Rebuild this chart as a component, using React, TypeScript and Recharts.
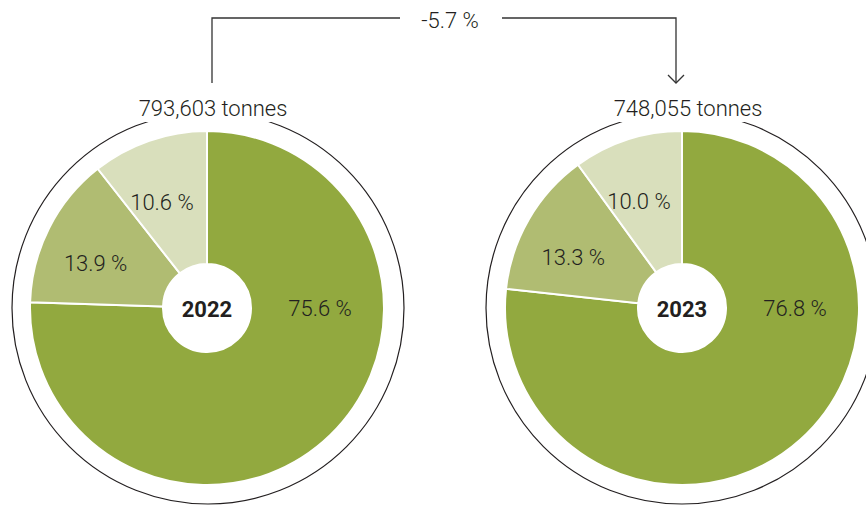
import { PieChart, Pie, Cell } from 'recharts'

const years = ['2022', '2023']
const totals = ['793,603 tonnes', '748,055 tonnes']
const change = '-5.7 %'
const shares2022 = [75.6, 13.9, 10.6]
const shares2023 = [76.8, 13.3, 10.0]
const segments = ['a', 'b', 'c']

const COLORS = ['#92a93f', '#b0bc72', '#d9dfbc']
const FONT = 'Roboto, "DejaVu Sans", sans-serif'
const TEXT = '#231f20'

const W = 866
const H = 507
const CY = 308
const CX = [207, 682]
const R = 177
const INNER = 44
const RING = 196

const toData = (vals: number[]) => vals.map((value, i) => ({ name: segments[i], value }))
const pies = [toData(shares2022), toData(shares2023)]

const fmt = (v: number) => `${v.toFixed(1)} %`

function renderLabel(props: any) {
  const { cx, cy, midAngle, index, value } = props
  // the big slice's label sits at 3 o'clock, others follow the slice middle
  const angle = index === 0 ? 0 : midAngle + (index === 1 ? 5 : 4)
  const r = index === 0 ? 113 : index === 1 ? 120 : 115
  const rad = (angle * Math.PI) / 180
  const x = cx + r * Math.cos(rad)
  const y = cy - r * Math.sin(rad)
  return (
    <text
      x={x}
      y={y}
      textAnchor="middle"
      dominantBaseline="central"
      fill={TEXT}
      fontFamily={FONT}
      fontSize={22}
      fontWeight={300}
    >
      {fmt(value)}
    </text>
  )
}

export default function App() {
  return (
    <div style={{ position: 'fixed', left: 0, top: 0, width: W, height: H, background: '#fff' }}>
      <PieChart width={W} height={H} margin={{ top: 0, right: 0, bottom: 0, left: 0 }}>
        {pies.map((data, k) => (
          <Pie
            key={years[k]}
            data={data}
            dataKey="value"
            cx={CX[k]}
            cy={CY}
            innerRadius={INNER}
            outerRadius={R}
            startAngle={90}
            endAngle={-270}
            stroke="#ffffff"
            strokeWidth={2}
            label={renderLabel}
            labelLine={false}
            isAnimationActive={false}
          >
            {data.map((d, i) => (
              <Cell key={d.name} fill={COLORS[i]} />
            ))}
          </Pie>
        ))}
      </PieChart>
      <svg
        width={W}
        height={H}
        style={{ position: 'absolute', left: 0, top: 0, pointerEvents: 'none' }}
      >
        {CX.map((cx, k) => (
          <g key={years[k]}>
            <circle cx={cx + (k === 0 ? 1 : 0)} cy={CY} r={RING} fill="none" stroke="#231f20" strokeWidth={1.2} />
            <rect x={cx - 78} y={94} width={158} height={28} fill="#fff" />
            <text
              x={cx + 6}
              y={108}
              textAnchor="middle"
              dominantBaseline="central"
              fill={TEXT}
              fontFamily={FONT}
              fontSize={22}
              fontWeight={300}
            >
              {totals[k]}
            </text>
            <text
              x={cx}
              y={CY + 1}
              textAnchor="middle"
              dominantBaseline="central"
              fill={TEXT}
              fontFamily={FONT}
              fontSize={22}
              fontWeight={700}
            >
              {years[k]}
            </text>
          </g>
        ))}
        <polyline points="212,83 212,18 400,18" fill="none" stroke="#333" strokeWidth={1.3} />
        <polyline points="502,18 676,18 676,83" fill="none" stroke="#333" strokeWidth={1.3} />
        <polyline points="668,75 676,83 684,75" fill="none" stroke="#333" strokeWidth={1.3} />
        <text
          x={450}
          y={20}
          textAnchor="middle"
          dominantBaseline="central"
          fill={TEXT}
          fontFamily={FONT}
          fontSize={22}
          fontWeight={300}
        >
          {change}
        </text>
      </svg>
    </div>
  )
}
